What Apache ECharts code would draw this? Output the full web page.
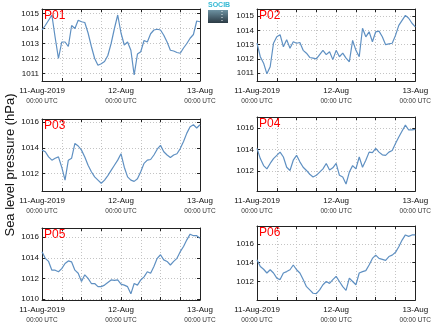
<!DOCTYPE html>
<html><head><meta charset="utf-8">
<script src="https://cdn.jsdelivr.net/npm/echarts@6/dist/echarts.min.js"></script>
<style>html,body{margin:0;padding:0;background:#fff}#c{width:434px;height:327px}</style>
</head><body><div id="c"></div>
<script>
var hours = [0,1,2,3,4,5,6,7,8,9,10,11,12,13,14,15,16,17,18,19,20,21,22,23,24,25,26,27,28,29,30,31,32,33,34,35,36,37,38,39,40,41,42,43,44,45,46,47,48];
var xLabelHours = [0, 24, 48];
var xLabelDates = ['11-Aug-2019', '12-Aug', '13-Aug'];
var xLabelTimes = ['00:00 UTC', '00:00 UTC', '00:00 UTC'];
var panelNames = ['P01','P02','P03','P04','P05','P06'];

var p01 = [1013.9,1014.2,1014.55,1014.9,1013.4,1012.0,1013.1,1013.1,1012.8,1014.2,1014.0,1014.55,1014.45,1014.4,1013.7,1012.8,1012.0,1011.55,1011.65,1011.8,1012.2,1013.0,1014.0,1014.9,1013.7,1012.9,1013.1,1012.55,1010.9,1012.3,1012.45,1013.2,1013.1,1013.65,1013.9,1013.95,1013.9,1013.55,1013.1,1012.55,1012.5,1012.4,1012.35,1012.7,1013.0,1013.35,1013.6,1014.5,1014.45];
var p02 = [1013.1,1012.15,1011.7,1010.95,1011.45,1013.1,1013.55,1013.7,1012.85,1013.35,1012.75,1013.2,1013.1,1013.15,1012.6,1012.4,1012.1,1012.05,1012.0,1012.3,1012.6,1012.3,1012.5,1011.95,1012.6,1012.15,1012.4,1012.05,1011.8,1013.3,1012.6,1012.15,1014.15,1013.55,1013.9,1013.2,1013.9,1013.95,1013.55,1013.0,1013.05,1013.1,1013.65,1014.35,1014.7,1015.05,1014.85,1014.5,1014.25];
var p03 = [1013.83,1013.7,1013.3,1013.05,1013.2,1013.3,1012.5,1011.5,1013.05,1013.2,1014.35,1014.15,1013.83,1013.3,1012.65,1012.15,1011.75,1011.5,1011.25,1011.5,1011.85,1012.25,1012.65,1013.05,1013.55,1012.5,1011.75,1011.5,1011.4,1011.6,1012.15,1012.8,1013.05,1013.1,1013.45,1013.9,1014.2,1013.7,1013.45,1013.25,1013.45,1013.55,1013.95,1014.5,1015.15,1015.65,1015.8,1015.55,1015.8];
var p04 = [1014.1,1013.15,1012.5,1012.2,1012.7,1013.15,1013.45,1013.75,1013.3,1012.35,1012.05,1013.0,1013.45,1012.85,1012.35,1012.05,1011.7,1011.45,1011.6,1011.9,1012.2,1012.7,1012.1,1012.3,1012.7,1011.6,1011.45,1010.8,1011.9,1012.5,1012.2,1013.3,1012.35,1013.0,1013.75,1013.7,1014.1,1013.75,1013.5,1013.45,1013.75,1013.9,1014.55,1015.15,1015.7,1016.25,1015.8,1015.8,1015.85];
var p05 = [1014.6,1013.95,1013.65,1012.8,1012.8,1012.65,1012.95,1013.45,1013.7,1013.6,1012.8,1012.5,1011.7,1012.35,1012.0,1011.5,1011.5,1011.2,1011.2,1011.35,1011.6,1011.85,1011.8,1011.85,1011.45,1011.35,1011.2,1010.5,1011.5,1011.35,1011.85,1012.15,1012.65,1012.5,1013.15,1013.95,1014.3,1013.8,1013.65,1013.3,1013.65,1013.95,1014.6,1015.1,1015.75,1016.3,1016.15,1016.15,1015.9];
var p06 = [1014.3,1013.6,1013.3,1012.9,1013.25,1012.9,1012.35,1012.2,1012.9,1013.05,1013.25,1013.75,1013.25,1012.9,1012.2,1011.45,1011.1,1010.75,1010.7,1011.1,1011.65,1012.0,1011.8,1012.2,1012.55,1012.0,1011.45,1011.05,1012.35,1012.0,1011.65,1012.9,1013.05,1013.15,1013.75,1014.45,1014.8,1014.45,1014.35,1014.25,1014.65,1014.8,1015.1,1015.7,1016.4,1016.95,1016.8,1016.95,1016.95];
var panelValues = [p01,p02,p03,p04,p05,p06];

var yMins = [1010.5, 1010.45, 1010.65, 1010.15, 1009.9, 1010.03];
var yMaxs = [1015.3, 1015.5, 1016.25, 1017.0, 1016.9, 1017.9];
var ySplits = [5, 5, 3, 3, 3, 4];

var gridBoxes = [
  {left:42, top:9, width:158, height:72},
  {left:257, top:9, width:159, height:72},
  {left:42, top:119, width:158, height:72},
  {left:257, top:117, width:159, height:74},
  {left:42, top:228, width:158, height:72},
  {left:257, top:226, width:159, height:74}
];

var FONT = 'Liberation Sans, Arial, sans-serif';
var FRAME = '#222';
var GRIDC = '#c4c4c4';
var LINEC = '#5f90c2';

var grid = [], xAxis = [], yAxis = [], series = [], graphic = [];
for (var i = 0; i < 6; i++) {
  grid.push(Object.assign({containLabel:false, show:false}, gridBoxes[i]));
  xAxis.push({
    type:'value', gridIndex:i, min:0, max:48, interval:6, position:'bottom',
    axisLine:{show:true, onZero:false, lineStyle:{color:FRAME, width:1}},
    axisTick:{show:true, inside:true, length:3, lineStyle:{color:FRAME}},
    splitLine:{show:true, lineStyle:{color:GRIDC, type:[1,2], width:1}},
    axisLabel:{
      show:true, margin:5, fontFamily:FONT, fontSize:8, color:'#111', lineHeight:10,
      showMinLabel:true, showMaxLabel:true,
      formatter:function(v){
        var k = xLabelHours.indexOf(v);
        if (k < 0) return '';
        return '{d|' + xLabelDates[k] + '}\n{t|' + xLabelTimes[k] + '}';
      },
      rich:{
        d:{fontFamily:FONT, fontSize:8, color:'#111', lineHeight:10},
        t:{fontFamily:FONT, fontSize:6.5, color:'#333', lineHeight:10}
      }
    }
  });
  xAxis.push({
    type:'value', gridIndex:i, min:0, max:48, interval:6, position:'top',
    axisLine:{show:true, onZero:false, lineStyle:{color:FRAME, width:1}},
    axisTick:{show:true, inside:true, length:3, lineStyle:{color:FRAME}},
    splitLine:{show:false}, axisLabel:{show:false}
  });
  yAxis.push({
    type:'value', gridIndex:i, min:yMins[i], max:yMaxs[i], splitNumber:ySplits[i], position:'left',
    axisLine:{show:true, onZero:false, lineStyle:{color:FRAME, width:1}},
    axisTick:{show:true, inside:true, length:3, lineStyle:{color:FRAME}},
    splitLine:{show:true, lineStyle:{color:GRIDC, type:[1,2], width:1}},
    axisLabel:{show:true, margin:3, fontFamily:FONT, fontSize:8, color:'#111', showMinLabel:false, showMaxLabel:false,
      formatter:function(v){ return (Math.abs(v - Math.round(v)) < 1e-6) ? String(Math.round(v)) : ''; }}
  });
  yAxis.push({
    type:'value', gridIndex:i, min:yMins[i], max:yMaxs[i], splitNumber:ySplits[i], position:'right',
    axisLine:{show:true, onZero:false, lineStyle:{color:FRAME, width:1}},
    axisTick:{show:true, inside:true, length:3, lineStyle:{color:FRAME}},
    splitLine:{show:false}, axisLabel:{show:false}
  });
  var vals = panelValues[i];
  series.push({
    type:'line', xAxisIndex:2*i, yAxisIndex:2*i, showSymbol:false, symbol:'none',
    lineStyle:{color:LINEC, width:1.2}, animation:false, z:3,
    data: hours.map(function(h, k){ return [h, vals[k]]; })
  });
  graphic.push({
    type:'text', left:gridBoxes[i].left + 2, top:gridBoxes[i].top + 1, z:10,
    style:{text:panelNames[i], fill:'#ff0000', font:'12px ' + FONT}
  });
}
graphic.push({
  type:'text', x:10, y:165, rotation:Math.PI/2, z:10,
  style:{text:'Sea level pressure (hPa)', fill:'#111', font:'13px ' + FONT, align:'center', verticalAlign:'middle'}
});
graphic.push({
  type:'group', left:208, top:2, z:10,
  children:[
    {type:'text', x:0, y:0, style:{text:'SOCIB', fill:'#35b9d4', font:'bold 7px ' + FONT}},
    {type:'rect', shape:{x:0, y:8, width:20, height:13},
     style:{fill:new echarts.graphic.LinearGradient(0,0,0,1,[{offset:0,color:'#6d92a2'},{offset:1,color:'#2b3a44'}])}},
    {type:'line', shape:{x1:14, y1:9, x2:14, y2:20}, style:{stroke:'#e8eef0', lineWidth:1, lineDash:[1,2]}}
  ]
});

var chart = echarts.init(document.getElementById('c'), null, {renderer:'canvas'});
chart.setOption({animation:false, backgroundColor:'#fff', grid:grid, xAxis:xAxis, yAxis:yAxis, series:series, graphic:graphic});
</script></body></html>
